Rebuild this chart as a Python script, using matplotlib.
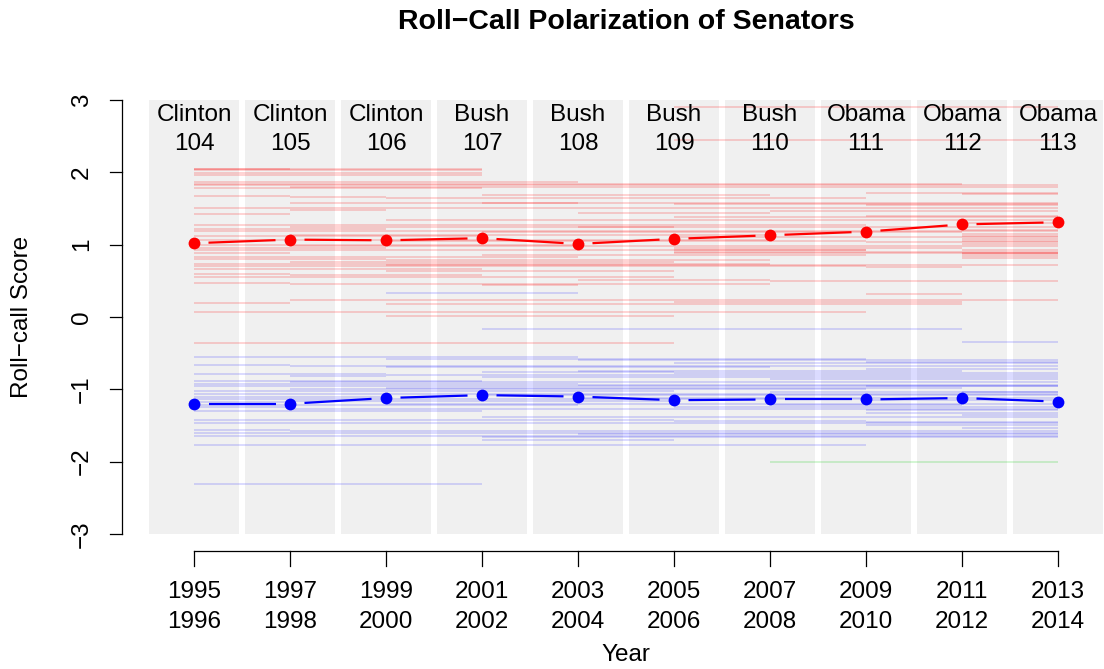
import matplotlib
matplotlib.use("Agg")
import matplotlib.pyplot as plt
from matplotlib.patches import Rectangle
import numpy as np

plt.rcParams['font.family'] = ['Liberation Sans', 'DejaVu Sans']

# Congress sessions
congress = [104, 105, 106, 107, 108, 109, 110, 111, 112, 113]
president = ["Clinton", "Clinton", "Clinton", "Bush", "Bush", "Bush", "Bush",
             "Obama", "Obama", "Obama"]
year_start = [1995, 1997, 1999, 2001, 2003, 2005, 2007, 2009, 2011, 2013]
year_end = [1996, 1998, 2000, 2002, 2004, 2006, 2008, 2010, 2012, 2014]

# Party means per congress
rep_mean = [1.02, 1.07, 1.06, 1.09, 1.01, 1.08, 1.13, 1.18, 1.28, 1.31]
dem_mean = [-1.20, -1.20, -1.12, -1.08, -1.10, -1.15, -1.14, -1.14, -1.12, -1.17]

# Individual senators: score, first congress (1-based), last congress
rep_score = [2.90, 2.45, 2.05, 2.04, 2.03, 1.99, 1.96, 1.86, 1.84, 1.82, 1.80, 1.78,
             1.71, 1.70, 1.68, 1.67, 1.66, 1.65, 1.58, 1.57, 1.56, 1.55, 1.50, 1.48,
             1.47, 1.44, 1.43, 1.40, 1.38, 1.34, 1.30, 1.27, 1.25, 1.24, 1.22, 1.20,
             1.19, 1.17, 1.15, 1.13, 1.12, 1.12, 1.10, 1.08, 1.06, 1.05, 1.05, 1.03,
             1.01, 1.00, 0.98, 0.98, 0.96, 0.95, 0.93, 0.93, 0.92, 0.90, 0.89, 0.88,
             0.88, 0.87, 0.86, 0.84, 0.83, 0.82, 0.80, 0.79, 0.76, 0.73, 0.72, 0.70,
             0.69, 0.66, 0.63, 0.60, 0.58, 0.55, 0.51, 0.50, 0.47, 0.46, 0.44, 0.32,
             0.23, 0.21, 0.19, 0.18, 0.07, 0.02, -0.36]
rep_first = [6, 6, 1, 1, 1, 1, 1, 1, 1, 1, 2, 1,
             8, 9, 4, 1, 2, 3, 4, 2, 6, 8, 1, 2,
             7, 5, 1, 8, 6, 3, 9, 1, 2, 5, 1, 9,
             1, 4, 9, 2, 1, 9, 6, 9, 1, 3, 9, 8,
             9, 1, 2, 9, 6, 1, 9, 6, 1, 6, 9, 1,
             6, 9, 4, 9, 1, 9, 1, 3, 2, 1, 3, 1,
             8, 1, 3, 1, 2, 1, 5, 7, 1, 2, 4, 8,
             2, 6, 1, 3, 1, 3, 1]
rep_last = [10, 10, 4, 2, 4, 4, 4, 5, 9, 10, 10, 4,
            10, 10, 7, 2, 3, 8, 10, 5, 10, 10, 10, 3,
            10, 7, 2, 10, 10, 10, 10, 8, 6, 10, 3, 10,
            10, 9, 10, 7, 4, 10, 10, 10, 7, 8, 10, 10,
            10, 5, 9, 10, 9, 3, 10, 8, 8, 10, 10, 2,
            10, 10, 8, 10, 5, 10, 3, 7, 6, 7, 10, 8,
            9, 4, 6, 2, 4, 6, 7, 10, 2, 7, 5, 9,
            10, 9, 2, 9, 8, 6, 6]

dem_score = [0.33, -0.17, -0.35, -0.55, -0.58, -0.60, -0.62, -0.64, -0.67, -0.68,
             -0.69, -0.72, -0.74, -0.76, -0.77, -0.79, -0.80, -0.82, -0.83, -0.86,
             -0.88, -0.90, -0.92, -0.94, -0.95, -0.96, -0.98, -1.00, -1.02, -1.03,
             -1.04, -1.06, -1.08, -1.10, -1.12, -1.13, -1.15, -1.16, -1.18, -1.20,
             -1.21, -1.22, -1.24, -1.25, -1.27, -1.28, -1.30, -1.33, -1.35, -1.38,
             -1.42, -1.44, -1.45, -1.47, -1.49, -1.54, -1.56, -1.58, -1.60, -1.62,
             -1.64, -1.66, -1.70, -1.77, -2.31]
dem_first = [3, 4, 9, 1, 3, 5, 8, 6, 1, 2,
             3, 8, 5, 4, 6, 1, 3, 2, 4, 7,
             1, 2, 1, 5, 8, 1, 3, 2, 1, 7,
             9, 1, 4, 1, 5, 1, 8, 2, 1, 3,
             7, 1, 6, 1, 2, 8, 1, 8, 9, 4,
             1, 6, 8, 1, 8, 9, 1, 2, 1, 5,
             1, 4, 4, 1, 1]
dem_last = [5, 9, 10, 5, 8, 10, 10, 10, 2, 10,
            7, 10, 9, 6, 10, 3, 10, 3, 10, 10,
            4, 10, 5, 10, 10, 10, 9, 8, 6, 10,
            10, 10, 10, 3, 10, 8, 10, 6, 2, 10,
            9, 5, 10, 2, 10, 10, 4, 10, 10, 10,
            6, 8, 10, 10, 10, 10, 2, 10, 10, 10,
            10, 10, 6, 8, 4]

ind_score = [-2.01]
ind_first = [7]
ind_last = [10]

W, H = 1104, 669
fig = plt.figure(figsize=(W / 100, H / 100), dpi=100)
left_px, bottom_px, top_px = 122, 551, 83
ax = fig.add_axes([left_px / W, (H - bottom_px) / H, (W - left_px) / W,
                   (bottom_px - top_px) / H])
xlo, xhi = 0.25, 0.25 + (W - left_px) / 96.0
ylo, yhi = -3.235, 3.235
ax.set_xlim(xlo, xhi)
ax.set_ylim(ylo, yhi)
ax.axis('off')

px_x = (W - left_px) / (xhi - xlo)
px_y = (bottom_px - top_px) / (yhi - ylo)

xs = np.arange(1, len(congress) + 1)

# Shaded panel for each congress
for x in xs:
    ax.add_patch(Rectangle((x - 0.47, -3), 0.94, 6, facecolor="#F0F0F0",
                           edgecolor="none", zorder=0))

# Senator tenures
def draw_senators(scores, firsts, lasts, color, alpha):
    for s, a, b in zip(scores, firsts, lasts):
        ax.plot([a, b], [s, s], color=color, alpha=alpha, lw=1.2,
                solid_capstyle='butt', zorder=1)

draw_senators(rep_score, rep_first, rep_last, "red", 0.2)
draw_senators(dem_score, dem_first, dem_last, "blue", 0.17)
draw_senators(ind_score, ind_first, ind_last, "#00CC00", 0.2)

# Party means: points joined by segments that stop short of each point
def draw_means(vals, color):
    gap = 14.5
    for i in range(len(vals) - 1):
        x0, y0, x1, y1 = xs[i], vals[i], xs[i + 1], vals[i + 1]
        L = np.hypot((x1 - x0) * px_x, (y1 - y0) * px_y)
        f = gap / L
        ax.plot([x0 + f * (x1 - x0), x1 - f * (x1 - x0)],
                [y0 + f * (y1 - y0), y1 - f * (y1 - y0)],
                color=color, lw=1.6, solid_capstyle='butt', zorder=3)
    ax.plot(xs, vals, 'o', color=color, markersize=8.5, markeredgewidth=0,
            zorder=4)

draw_means(rep_mean, "red")
draw_means(dem_mean, "blue")

fs = 17.5
# Congress labels inside panels
for x, p, c in zip(xs, president, congress):
    ax.text(x, 3 - 21 / px_y, p, ha='center', va='baseline', fontsize=fs, zorder=5)
    ax.text(x, 3 - 50 / px_y, str(c), ha='center', va='baseline', fontsize=fs, zorder=5)

# Y axis
ax.plot([xlo, xlo], [-3, 3], color='black', lw=0.9, clip_on=False)
for v in range(-3, 4):
    ax.plot([xlo - 12 / px_x, xlo], [v, v], color='black', lw=0.9, clip_on=False)
    lab = str(v).replace('-', '\u2212')
    ax.text(xlo - 34 / px_x, v, lab, rotation=90, rotation_mode='anchor',
            ha='center', va='baseline', fontsize=fs, clip_on=False)

# X axis
ax.plot([xs[0], xs[-1]], [ylo, ylo], color='black', lw=0.9, clip_on=False)
for x, a, b in zip(xs, year_start, year_end):
    ax.plot([x, x], [ylo, ylo - 15 / px_y], color='black', lw=0.9, clip_on=False)
    ax.text(x, ylo - 47 / px_y, str(a), ha='center', va='baseline', fontsize=fs,
            clip_on=False)
    ax.text(x, ylo - 77 / px_y, str(b), ha='center', va='baseline', fontsize=fs,
            clip_on=False)

fig.text(626 / W, 1 - 655 / H, "Year", ha='center', va='center', fontsize=fs)
fig.text(22 / W, 1 - 317 / H, "Roll\u2212call Score", rotation=90,
         ha='center', va='center', fontsize=fs)
fig.text(626 / W, 1 - 22 / H, "Roll\u2212Call Polarization of Senators",
         ha='center', va='center', fontsize=20.5, fontweight='bold')

fig.savefig("out.png", dpi=100)
